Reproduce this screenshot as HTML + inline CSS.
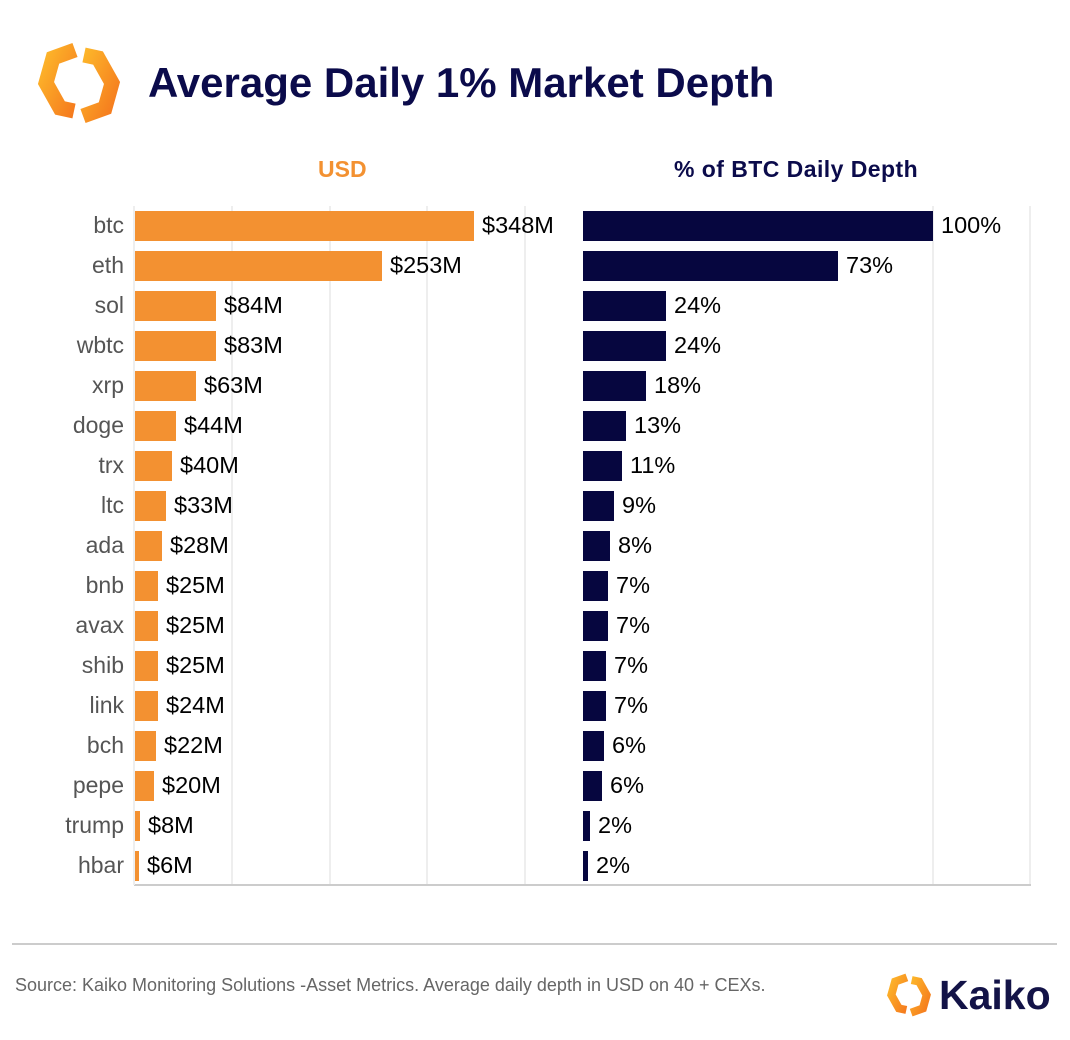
<!DOCTYPE html><html><head><style>
body{margin:0;width:1070px;height:1040px;background:#fff;font-family:"Liberation Sans",sans-serif;position:relative;overflow:hidden}
.a{position:absolute}
.t{font-size:23.5px;color:#000;white-space:nowrap;line-height:30px}
.lb{font-size:23px;color:#555;text-align:right;width:100px;left:24px;line-height:30px}
</style></head><body>
<svg width="0" height="0" style="position:absolute"><defs><linearGradient id="g" x1="0" y1="0" x2="1" y2="1"><stop offset="0" stop-color="#fdb62a"/><stop offset="1" stop-color="#f57a1e"/></linearGradient></defs></svg>
<svg class="a" style="left:36px;top:40px" width="86" height="86" viewBox="0 0 86 86">
<path d="M39 10 L17 18 L10 43 L24 68 L38 71" fill="none" stroke="url(#g)" stroke-width="15" stroke-linejoin="miter"/>
<path d="M47 76 L69 68 L76 43 L62 18 L48 15" fill="none" stroke="url(#g)" stroke-width="15" stroke-linejoin="miter"/>
</svg>
<div class="a" style="left:148px;top:59px;font-size:42px;font-weight:bold;color:#0b0b4b">Average Daily 1% Market Depth</div>
<div class="a" style="left:318px;top:156px;font-size:23px;font-weight:bold;color:#f39131">USD</div>
<div class="a" style="left:674px;top:156px;font-size:23px;font-weight:bold;color:#0b0b4b;letter-spacing:0.45px">% of BTC Daily Depth</div>
<svg class="a" style="left:0;top:0" width="1070" height="1040">
<g stroke="#eee" stroke-width="2"><line x1="232" y1="206" x2="232" y2="885"/><line x1="330" y1="206" x2="330" y2="885"/><line x1="427" y1="206" x2="427" y2="885"/><line x1="525" y1="206" x2="525" y2="885"/><line x1="933" y1="206" x2="933" y2="885"/><line x1="1030" y1="206" x2="1030" y2="885"/></g>
<line x1="134" y1="885" x2="1031" y2="885" stroke="#ccc" stroke-width="2"/>
<line x1="134" y1="206" x2="134" y2="885" stroke="#eee" stroke-width="2"/>
<line x1="12" y1="944" x2="1057" y2="944" stroke="#bbb" stroke-width="1.5"/>
<g id="bars"></g>
</svg>
<div id="txt"></div>
<div class="a" style="left:15px;top:975px;font-size:18px;color:#666">Source: Kaiko Monitoring Solutions -Asset Metrics. Average daily depth in USD on 40 + CEXs.</div>
<svg class="a" style="left:886px;top:972px" width="46" height="46" viewBox="0 0 86 86">
<path d="M39 10 L17 18 L10 43 L24 68 L38 71" fill="none" stroke="url(#g)" stroke-width="15"/>
<path d="M47 76 L69 68 L76 43 L62 18 L48 15" fill="none" stroke="url(#g)" stroke-width="15"/>
</svg>
<div class="a" style="left:939px;top:972px;font-size:41px;font-weight:bold;color:#131347">Kaiko</div>
<script>
var d=[["btc",474,"$348M",933,"100%"],["eth",382,"$253M",838,"73%"],["sol",216,"$84M",666,"24%"],["wbtc",216,"$83M",666,"24%"],["xrp",196,"$63M",646,"18%"],["doge",176,"$44M",626,"13%"],["trx",172,"$40M",622,"11%"],["ltc",166,"$33M",614,"9%"],["ada",162,"$28M",610,"8%"],["bnb",158,"$25M",608,"7%"],["avax",158,"$25M",608,"7%"],["shib",158,"$25M",606,"7%"],["link",158,"$24M",606,"7%"],["bch",156,"$22M",604,"6%"],["pepe",154,"$20M",602,"6%"],["trump",140,"$8M",590,"2%"],["hbar",139,"$6M",588,"2%"]];
var s="",h="";
d.forEach(function(r,i){var y=211+i*40;
s+='<rect x="135" y="'+y+'" width="'+(r[1]-135)+'" height="30" fill="#f39131"/><rect x="583" y="'+y+'" width="'+(r[3]-583)+'" height="30" fill="#06063f"/>';
h+='<div class="a lb" style="top:'+(y-1)+'px">'+r[0]+'</div><div class="a t" style="left:'+(r[1]+8)+'px;top:'+(y-1)+'px">'+r[2]+'</div><div class="a t" style="left:'+(r[3]+8)+'px;top:'+(y-1)+'px">'+r[4]+'</div>';});
document.getElementById("bars").innerHTML=s;document.getElementById("txt").innerHTML=h;
</script>
</body></html>
